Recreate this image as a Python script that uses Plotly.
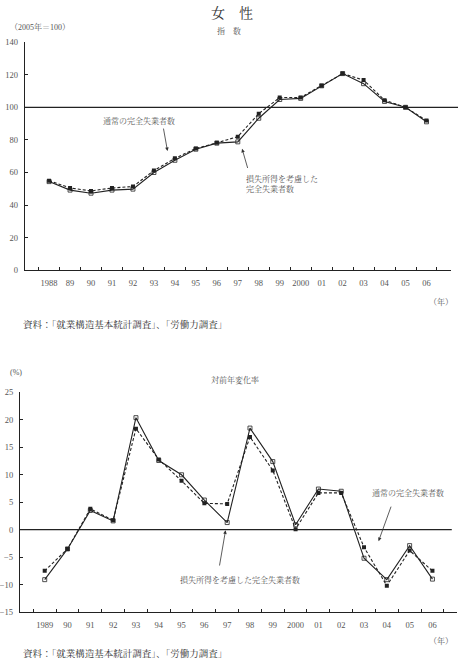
import plotly.graph_objects as go

W, H = 459, 667

years_idx = ["1988", "89", "90", "91", "92", "93", "94", "95", "96", "97", "98", "99",
             "2000", "01", "02", "03", "04", "05", "06"]
idx_regular = [55.0, 50.5, 48.7, 50.5, 51.4, 61.2, 68.7, 74.7, 78.2, 82.0, 96.1, 106.0,
               106.0, 113.2, 120.7, 116.7, 104.4, 100.0, 91.9]
idx_loss = [54.4, 49.2, 47.3, 49.2, 49.8, 60.0, 67.5, 74.3, 78.0, 78.8, 93.3, 104.8,
            105.5, 113.2, 120.7, 114.5, 103.6, 100.0, 91.1]

years_chg = ["1989", "90", "91", "92", "93", "94", "95", "96", "97", "98", "99",
             "2000", "01", "02", "03", "04", "05", "06"]
chg_regular = [-7.5, -3.5, 3.8, 1.7, 18.4, 12.8, 8.9, 4.8, 4.7, 16.9, 10.8,
               0.1, 6.7, 6.7, -3.2, -10.2, -3.8, -7.5]
chg_loss = [-9.1, -3.5, 3.5, 1.6, 20.4, 12.6, 10.0, 5.4, 1.3, 18.5, 12.4,
            0.9, 7.4, 7.0, -5.2, -9.1, -2.9, -9.0]

FONT = "Liberation Serif, Noto Serif CJK JP, Noto Sans CJK JP, serif"
TXT = "#555555"
LINE = "#222222"


def px(x):
    return x / W


def py(y):
    return (H - y) / H


fig = go.Figure()

fig.add_trace(go.Scatter(x=years_idx, y=idx_regular, mode="lines+markers", xaxis="x", yaxis="y",
                         line=dict(color=LINE, width=1.1, dash="3px,2px"),
                         marker=dict(symbol="square", size=4, color=LINE), showlegend=False))
fig.add_trace(go.Scatter(x=years_idx, y=idx_loss, mode="lines+markers", xaxis="x", yaxis="y",
                         line=dict(color=LINE, width=1.1),
                         marker=dict(symbol="square-open", size=4, color=LINE, line=dict(width=0.8)),
                         showlegend=False))
fig.add_trace(go.Scatter(x=years_chg, y=chg_regular, mode="lines+markers", xaxis="x2", yaxis="y2",
                         line=dict(color=LINE, width=1.1, dash="3px,2px"),
                         marker=dict(symbol="square", size=4, color=LINE), showlegend=False))
fig.add_trace(go.Scatter(x=years_chg, y=chg_loss, mode="lines+markers", xaxis="x2", yaxis="y2",
                         line=dict(color=LINE, width=1.1),
                         marker=dict(symbol="square-open", size=4, color=LINE, line=dict(width=0.8)),
                         showlegend=False))

axcommon = dict(showline=True, linecolor=LINE, linewidth=1, ticks="inside", ticklen=3,
                tickcolor=LINE, showgrid=False, zeroline=False, tickangle=0,
                tickfont=dict(family=FONT, size=8.5, color=TXT))

fig.update_layout(
    width=W, height=H, margin=dict(l=0, r=0, t=0, b=0),
    paper_bgcolor="white", plot_bgcolor="white",
    xaxis=dict(domain=[px(20), px(450.7)], anchor="y", type="category",
               tickson="boundaries", ticklabelstandoff=5, **axcommon),
    yaxis=dict(domain=[py(269.3), py(37.7)], anchor="x", range=[0, 140], dtick=20,
               ticklabelstandoff=4, **axcommon),
    xaxis2=dict(domain=[px(15), px(457.3)], anchor="y2", type="category",
                tickson="boundaries", ticklabelstandoff=5, **axcommon),
    yaxis2=dict(domain=[py(616.3), py(393.3)], anchor="x2", range=[-15, 25], dtick=5,
                ticklabelstandoff=4, **axcommon),
)

fig.add_shape(type="line", xref="paper", yref="y", x0=px(20), x1=px(458), y0=100, y1=100,
              line=dict(color=LINE, width=1.2))
fig.add_shape(type="line", xref="paper", yref="y2", x0=px(15), x1=px(451.7), y0=0, y1=0,
              line=dict(color=LINE, width=1.2))


def text(x, y, s, size=9, xanchor="center", color=TXT):
    fig.add_annotation(x=px(x), y=py(y), xref="paper", yref="paper", text=s, showarrow=False,
                       xanchor=xanchor, yanchor="middle",
                       font=dict(family=FONT, size=size, color=color))


def arrow(tx, ty, hx, hy):
    fig.add_annotation(x=px(hx), y=py(hy), xref="paper", yref="paper", text="",
                       showarrow=True, ax=tx - hx, ay=ty - hy, axref="pixel", ayref="pixel",
                       arrowhead=2, arrowsize=0.9, arrowwidth=0.8, arrowcolor="#333333")


text(229, 8, "女　性", size=14, color="#333333")
text(3.5, 22.3, "（2005年＝100）", size=8, xanchor="left")
text(226, 26.3, "指　数", size=8)
text(135, 117.3, "通常の完全失業者数", size=8)
arrow(160, 124.3, 164.3, 148.3)
text(241.7, 176.7, "損失所得を考慮した", size=8, xanchor="left")
text(241.7, 186.7, "完全失業者数", size=8, xanchor="left")
arrow(245.7, 166.7, 239.7, 146)
text(440.7, 301.7, "（年）", size=8)
text(15.7, 324.3, "資料：「就業構造基本統計調査」、「労働力調査」", size=9.5, xanchor="left", color="#333333")

text(3, 372.7, "(%)", size=8, xanchor="left")
text(233, 380.7, "対前年変化率", size=8)
text(407.7, 495.3, "通常の完全失業者数", size=8)
arrow(390.7, 508.3, 377.7, 544.3)
text(238, 583.3, "損失所得を考慮した完全失業者数", size=8)
arrow(216.7, 570, 223, 533.3)
text(440.7, 645.7, "（年）", size=8)
text(15.7, 658.3, "資料：「就業構造基本統計調査」、「労働力調査」", size=9.5, xanchor="left", color="#333333")

fig.write_html("out.html")
